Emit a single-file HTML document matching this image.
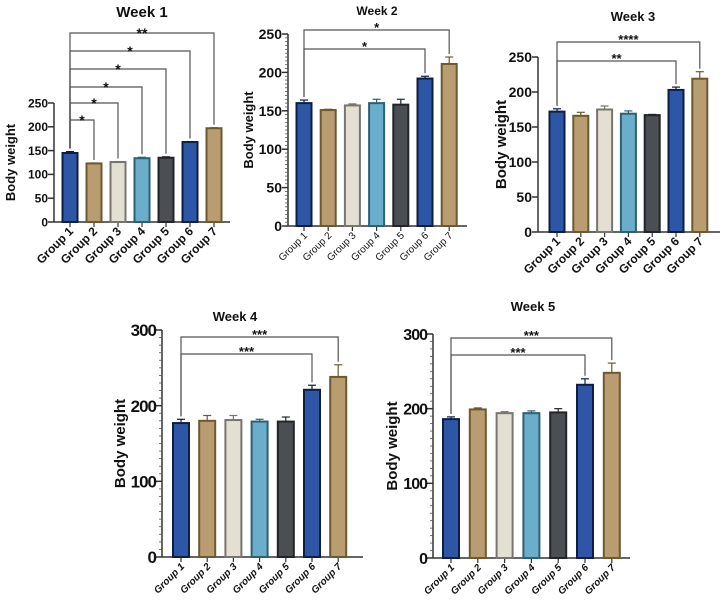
<!DOCTYPE html>
<html><head><meta charset="utf-8"><style>
body{margin:0;background:#fff;width:720px;height:608px;overflow:hidden}
svg{display:block}
text{font-family:"Liberation Sans",sans-serif;fill:#111}
</style></head><body>
<svg id="fig" width="720" height="608" viewBox="0 0 720 608"></svg>
<script>
const groups = ["Group 1","Group 2","Group 3","Group 4","Group 5","Group 6","Group 7"];
const w1Values = [145,123,126,134,135,168,197];
const w1Errors = [3,1,1,2,2,1,1];
const w2Values = [160,151,157,160,158,192,211];
const w2Errors = [4,1,2,5,7,3,9];
const w3Values = [172,166,175,169,167,203,219];
const w3Errors = [4,5,5,4,1,4,10];
const w4Values = [177,180,181,179,179,221,238];
const w4Errors = [5,7,6,3,6,6,16];
const w5Values = [186,199,194,194,195,232,248];
const w5Errors = [3,2,2,3,5,8,13];
const ticks250 = [0,50,100,150,200,250];
const ticks300 = [0,100,200,300];
const w1Sig = [{to:7,label:"**"},{to:6,label:"*"},{to:5,label:"*"},{to:4,label:"*"},{to:3,label:"*"},{to:2,label:"*"}];
const w2Sig = [{to:7,label:"*"},{to:6,label:"*"}];
const w3Sig = [{to:7,label:"****"},{to:6,label:"**"}];
const w4Sig = [{to:7,label:"***"},{to:6,label:"***"}];
const w5Sig = [{to:7,label:"***"},{to:6,label:"***"}];

const fills = ["#2d57a6","#b99c6f","#e3dfd2","#6aaecb","#4b4e53","#2d57a6","#b99c6f"];
const strokes = ["#0e1d42","#6d5930","#77756f","#2e6070","#222427","#0e1d42","#6d5930"];
const NS="http://www.w3.org/2000/svg";
const svg=document.getElementById('fig');
function mk(tag,attrs,parent,txt){const e=document.createElementNS(NS,tag);for(const k in attrs)e.setAttribute(k,attrs[k]);if(txt!==undefined)e.textContent=txt;parent.appendChild(e);return e;}

function panel(c){
  const g=mk('g',{},svg);
  
  
  const yS=v=>c.y0-(v/c.ymax)*(c.y0-c.yTop);
  const xS=i=>c.x1+i*c.dx;
  const t=mk('text',{x:c.titleX,y:c.titleY,'text-anchor':'middle','font-size':c.titleSize,'font-weight':'bold'},g,c.title);
  
  
  const yl=mk('text',{transform:`translate(${c.ylX},${(c.y0+c.yTop)/2}) rotate(-90)`,'text-anchor':'middle','font-size':c.ylSize,'font-weight':'bold'},g,"Body weight");
  
  
  const ax=mk('line',{x1:c.ax,y1:c.yTop,x2:c.ax,y2:c.y0,stroke:'#333','stroke-width':1.5},g);
  
  
  const xa=mk('line',{x1:c.ax,y1:c.y0,x2:c.xEnd,y2:c.y0,stroke:'#333','stroke-width':1.5},g);
  
  
  if(c.minor){for(let v=0;v<=c.ymax;v+=c.minor){mk('line',{x1:c.ax-3,y1:yS(v),x2:c.ax,y2:yS(v),stroke:'#555','stroke-width':0.8},g);}}
  c.ticks.forEach(v=>{
    mk('line',{x1:c.ax-6,y1:yS(v),x2:c.ax,y2:yS(v),stroke:'#333','stroke-width':1.5},g);
    const tl=mk('text',{x:c.ax-6,y:yS(v)+c.tkSize*0.36,'text-anchor':'end','font-size':c.tkSize,'font-weight':'bold','letter-spacing':c.tkLs||0},g,v);
    
    
  });
  c.values.forEach((v,i)=>{
    const x=xS(i);
    const top=yS(v+c.errors[i]);
    mk('line',{x1:x,y1:c.y0,x2:x,y2:c.y0+5,stroke:'#333','stroke-width':1.2},g);
    mk('line',{x1:x,y1:yS(v),x2:x,y2:top,stroke:strokes[i],'stroke-width':1.2},g);
    mk('line',{x1:x-4,y1:top,x2:x+4,y2:top,stroke:strokes[i],'stroke-width':1.2},g);
    const b=mk('rect',{x:x-c.bw/2,y:yS(v),width:c.bw,height:c.y0-yS(v),fill:fills[i],stroke:strokes[i],'stroke-width':2},g);
    
    
    const lab=mk('text',{transform:`translate(${x+4},${c.y0+10}) rotate(-45)`,'text-anchor':'end','font-size':c.xlSize,'font-weight':c.xlWeight,'font-style':c.xlStyle},g,groups[i]);
    
    
  });
  c.sig.forEach((s,k)=>{
    const by=c.br[k];
    const x0=xS(0), x1=xS(s.to-1);
    const d0=yS(c.values[0]+c.errors[0])-3, d1=yS(c.values[s.to-1]+c.errors[s.to-1])-3;
    const p=mk('path',{d:`M${x0},${d0}V${by}H${x1}V${d1}`,fill:'none',stroke:'#555','stroke-width':1.2},g);
    
    
    const st=mk('text',{x:(x0+x1)/2,y:by-2+c.starOff,'text-anchor':'middle','font-size':c.starSize,'font-weight':'bold'},g,s.label);
    
    
  });
}
panel({id:'week-1-chart',title:'Week 1',titleX:142,titleY:17,titleSize:15,values:w1Values,errors:w1Errors,ymax:250,ticks:ticks250,y0:222,yTop:103,ax:54,xEnd:230,x1:70,dx:24,bw:15,ylX:15,ylSize:13,tkSize:12,xlSize:12,xlWeight:'bold',xlStyle:'normal',sig:w1Sig,br:[33,51,69,87,103,120],starSize:14,starOff:7,minor:0});
panel({id:'week-2-chart',title:'Week 2',titleX:377,titleY:15,titleSize:12,values:w2Values,errors:w2Errors,ymax:250,ticks:ticks250,y0:226,yTop:34,ax:288,xEnd:467,x1:304,dx:24.2,bw:15,ylX:253,ylSize:13,tkSize:14,xlSize:10,xlWeight:'normal',xlStyle:'normal',sig:w2Sig,br:[30,49],starSize:13,starOff:4,minor:5});
panel({id:'week-3-chart',title:'Week 3',titleX:633,titleY:21,titleSize:13,values:w3Values,errors:w3Errors,ymax:250,ticks:ticks250,y0:232,yTop:57,ax:538,xEnd:720,x1:557,dx:23.8,bw:15,ylX:506,ylSize:15,tkSize:14,xlSize:12,xlWeight:'bold',xlStyle:'normal',sig:w3Sig,br:[42,61],starSize:13,starOff:4,minor:0});
panel({id:'week-4-chart',title:'Week 4',titleX:235,titleY:321,titleSize:13,values:w4Values,errors:w4Errors,ymax:300,ticks:ticks300,y0:557,yTop:330,ax:162,xEnd:363,x1:181,dx:26.2,bw:16,ylX:125,ylSize:15,tkSize:17,tkLs:-1,xlSize:10,xlWeight:'bold',xlStyle:'italic',sig:w4Sig,br:[337,354],starSize:13,starOff:4,minor:10});
panel({id:'week-5-chart',title:'Week 5',titleX:533,titleY:311,titleSize:13,values:w5Values,errors:w5Errors,ymax:300,ticks:ticks300,y0:558,yTop:334,ax:433,xEnd:630,x1:451,dx:26.8,bw:16,ylX:397,ylSize:15,tkSize:16,tkLs:-1,xlSize:10,xlWeight:'bold',xlStyle:'italic',sig:w5Sig,br:[338,355],starSize:13,starOff:4,minor:10});
</script>
</body></html>
